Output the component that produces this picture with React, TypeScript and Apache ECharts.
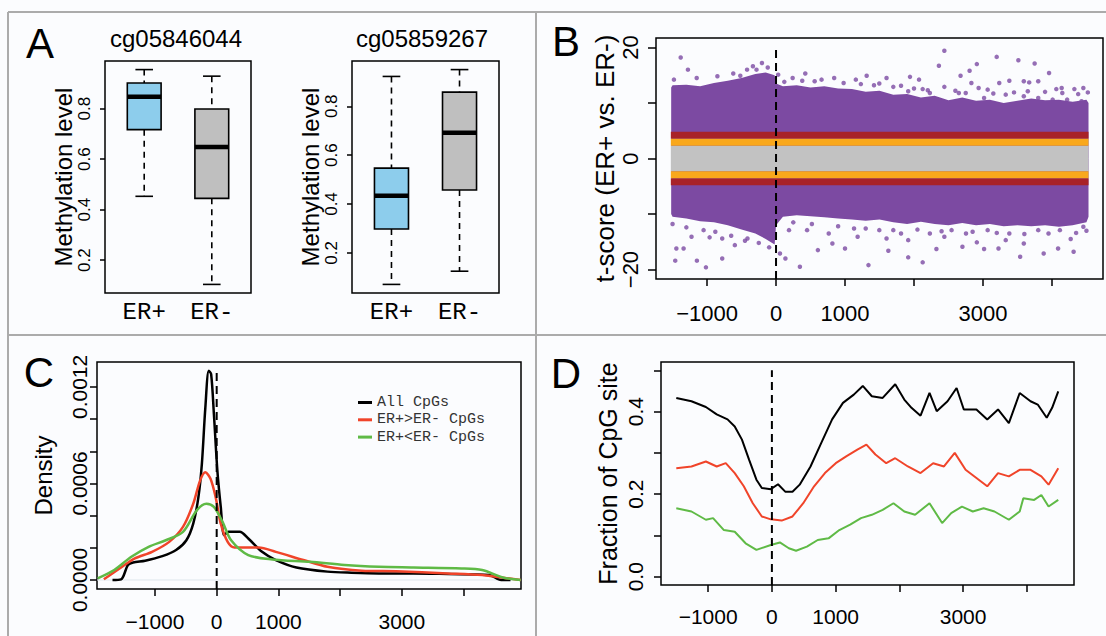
import React, { useEffect, useRef } from "react";
import * as echarts from "echarts";

// ---------------- Panel A : box plots ----------------
const A_GROUPS = ["ER+", "ER-"];
const A_POSITIONS = [1, 2];
const A1_TITLE = "cg05846044";
const A2_TITLE = "cg05859267";
// [lower whisker, Q1, median, Q3, upper whisker]
const A1_ERPOS = [0.453, 0.717, 0.847, 0.902, 0.955];
const A1_ERNEG = [0.104, 0.445, 0.648, 0.799, 0.929];
const A2_ERPOS = [0.071, 0.298, 0.434, 0.547, 0.922];
const A2_ERNEG = [0.125, 0.457, 0.692, 0.858, 0.95];
const A_Y_TICKS = [0.2, 0.4, 0.6, 0.8];
const A_Y_LABEL = "Methylation level";
const A_BOX_COLORS = ["#8dcdec", "#bfbfbf"];

// ---------------- Panel B : t-score scatter ----------------
const B_Y_LABEL = "t-score (ER+ vs. ER-)";
const B_X = [-1520, -1500, -1300, -1100, -900, -700, -500, -300, -150, -20, 0, 100, 300, 500, 700, 900, 1100, 1300, 1500, 1700, 1900, 2100, 2300, 2500, 2700, 2900, 3100, 3300, 3500, 3700, 3900, 4100, 4300, 4500, 4530];
const B_UPPER = [12.8, 13.2, 13.3, 13.0, 13.6, 14.0, 14.5, 15.2, 15.5, 15.0, 13.5, 13.0, 13.2, 12.8, 13.0, 12.6, 12.5, 12.0, 12.2, 11.5, 11.6, 11.0, 11.3, 10.5, 11.0, 10.4, 10.6, 10.0, 10.4, 10.8, 10.5, 10.6, 10.2, 10.6, 10.0];
const B_LOWER = [-10.0, -10.5, -10.8, -11.3, -11.5, -12.0, -12.8, -13.5, -14.5, -15.5, -12.0, -10.5, -10.2, -10.4, -10.6, -10.8, -11.0, -11.2, -11.0, -11.5, -11.8, -11.4, -11.8, -12.0, -11.6, -12.0, -11.8, -12.2, -12.0, -12.2, -12.0, -12.3, -12.0, -11.5, -10.5];
const B_OUTLIERS: [number, number][] = [
  [-1382, 18.2], [-1277, 16.0], [-518, 14.9], [-335, 16.6], [-204, 17.2], [-283, 16.0], [31, 15.1], [241, 14.5], [424, 15.3], [660, 14.2],
  [843, 14.5], [1157, 14.2], [1314, 14.9], [1602, 14.5], [1942, 14.7], [2073, 14.2], [2361, 16.7], [2440, 19.4], [2675, 14.9], [2806, 15.8],
  [2911, 17.0], [2832, 13.6], [2937, 12.7], [3199, 18.3], [3236, 13.6], [3513, 17.7], [3382, 14.0], [3592, 13.9], [3670, 13.7], [3749, 17.1],
  [3801, 13.9], [3958, 15.4], [4063, 12.5], [4141, 12.7], [4325, 12.5], [4455, 12.7], [2126, 12.5], [1812, 13.1], [1497, 13.5], [2440, 12.9],
  [3068, 12.4], [3330, 11.5], [4220, 10.6], [3592, 11.2], [2650, 11.8], [3016, 10.9], [4010, 10.6], [4429, 10.3], [3801, 10.9], [2230, 11.8],
  [1916, 12.1], [120, 13.8], [380, 14.0], [560, 13.9], [980, 13.6], [1230, 13.4], [1420, 13.2], [1700, 12.9], [2000, 12.6], [2200, 12.3],
  [2600, 12.2], [2750, 11.8], [3150, 11.7], [3450, 11.9], [3650, 12.1], [3900, 12.0], [4150, 11.8], [4380, 11.6], [4520, 11.9], [-1480, 14.2],
  [-1150, 14.5], [-850, 14.8], [-620, 15.3], [-420, 16.0], [-120, 16.4],
  [-1445, -16.2], [-1340, -16.2], [-1461, -18.4], [-1016, -19.6], [-1147, -18.4], [-780, -18.0], [-597, -15.6], [-414, -14.4], [-780, -14.4], [-963, -14.2],
  [-1225, -14.1], [346, -19.5], [607, -16.5], [817, -15.3], [1000, -16.2], [1340, -19.2], [1628, -16.6], [1916, -17.8], [2126, -18.7], [2325, -16.3],
  [2440, -14.1], [2702, -15.9], [3016, -16.3], [3225, -16.2], [3539, -17.7], [3880, -17.1], [4089, -16.2], [4314, -16.8], [4272, -14.5], [4455, -12.3],
  [4115, -12.9], [3801, -12.9], [3382, -13.5], [3068, -12.9], [2754, -13.5], [2545, -12.9], [2230, -13.5], [1812, -13.5], [1497, -12.9], [1183, -14.1],
  [764, -13.5], [450, -12.9], [188, -12.9], [1916, -14.7], [1602, -14.4], [1131, -12.6], [2911, -15.1], [3592, -15.3], [3330, -14.7], [57, -17.1],
  [136, -18.0], [-1500, -11.8], [-1300, -12.4], [-1050, -12.9], [-880, -13.2], [-650, -13.9], [-450, -14.8], [-250, -15.2], [-100, -16.0], [250, -11.5],
  [520, -11.8], [900, -12.2], [1300, -12.6], [1700, -12.9], [2050, -12.8], [2400, -13.1], [2850, -13.2], [3200, -13.4], [3600, -13.6], [3950, -13.5],
  [4350, -13.4], [4500, -13.0]
];
// [x start, x end, y low, y high, colour index]
const B_BANDS = [
  [-1525, 4530, -2.3, 2.3, 0],
  [-1525, 4530, 2.3, 3.6, 1],
  [-1525, 4530, -3.6, -2.3, 1],
  [-1525, 4530, 3.6, 4.8, 2],
  [-1525, 4530, -4.8, -3.6, 2]
];
const B_BAND_COLORS = ["#c2c2c2", "#f9a81c", "#a82228"];
const B_PURPLE = "#7c4aa2";
const B_ZERO_LINE = [[0, -21.7], [0, 20.2]];
const X_TICKS = [-1000, 0, 1000, 2000, 3000, 4000];
const X_LABELS = [-1000, 0, 1000, 3000];
const B_Y_TICKS = [-20, -10, 0, 10, 20];
const B_Y_LABELS = [-20, 0, 20];

// ---------------- Panel C : density ----------------
const C_Y_LABEL = "Density";
const C_NAMES = ["All CpGs", "ER+>ER- CpGs", "ER+<ER- CpGs"];
const C_ALL: [number, number][] = [[-1688, 0], [-1549, 0.000004], [-1438, 0.000093], [-1354, 0.000109], [-1159, 0.00012], [-880, 0.000148], [-658, 0.000186], [-491, 0.000247], [-380, 0.00035], [-296, 0.000515], [-240, 0.000722], [-184, 0.00107], [-128, 0.0013], [-90, 0.00128], [-45, 0.00103], [11, 0.00068], [66, 0.000454], [122, 0.000278], [189, 0.0003], [373, 0.0003], [512, 0.000258], [735, 0.000175], [958, 0.000124], [1292, 0.000078], [1794, 0.000052], [2183, 0.000045], [2630, 0.000041], [3187, 0.000041], [3744, 0.000037], [4413, 0.000031], [4608, 0], [4760, 0]];
const C_UP: [number, number][] = [[-1828, 0.000004], [-1549, 0.000078], [-1326, 0.000134], [-1047, 0.000175], [-769, 0.000237], [-546, 0.00033], [-380, 0.000474], [-268, 0.000619], [-184, 0.00067], [-100, 0.000629], [-17, 0.000515], [66, 0.00035], [178, 0.000237], [290, 0.000202], [680, 0.000202], [958, 0.000175], [1404, 0.000124], [1794, 0.000082], [2351, 0.000058], [2908, 0.000054], [3744, 0.000041], [4301, 0.000031], [4524, 0.00002], [4925, 0]];
const C_DOWN: [number, number][] = [[-1928, 0.00001], [-1660, 0.000062], [-1382, 0.000144], [-1103, 0.000206], [-825, 0.000247], [-546, 0.000299], [-323, 0.000433], [-167, 0.000474], [-45, 0.000454], [95, 0.000361], [234, 0.000247], [512, 0.000155], [902, 0.000128], [1515, 0.000113], [2072, 0.000093], [2630, 0.000082], [3187, 0.000078], [3967, 0.000072], [4301, 0.000062], [4635, 0.000016], [4925, 0]];
const C_Y_TICKS = [0, 0.0002, 0.0004, 0.0006, 0.0008, 0.001, 0.0012];
const C_Y_LABELS = [0, 0.0006, 0.0012];
const C_ZERO_LINE = [[0, -0.000056], [0, 0.00131]];
const C_BASELINE = [[-1939, 0], [4930, 0]];

// ---------------- Panel D : fraction of CpG site ----------------
const D_Y_LABEL = "Fraction of CpG site";
const D_ALL: [number, number][] = [[-1500, 0.433], [-1262, 0.425], [-1036, 0.411], [-866, 0.393], [-696, 0.381], [-583, 0.364], [-470, 0.332], [-357, 0.283], [-243, 0.235], [-158, 0.215], [-17, 0.212], [96, 0.224], [209, 0.206], [323, 0.206], [436, 0.223], [606, 0.267], [775, 0.324], [945, 0.381], [1115, 0.421], [1285, 0.441], [1426, 0.462], [1568, 0.437], [1738, 0.433], [1935, 0.466], [2077, 0.429], [2190, 0.409], [2332, 0.39], [2473, 0.445], [2586, 0.401], [2756, 0.425], [2898, 0.457], [3011, 0.405], [3209, 0.405], [3379, 0.381], [3548, 0.405], [3718, 0.372], [3888, 0.445], [4058, 0.425], [4171, 0.417], [4312, 0.385], [4397, 0.409], [4493, 0.449]];
const D_UP: [number, number][] = [[-1500, 0.263], [-1262, 0.267], [-1036, 0.279], [-866, 0.267], [-724, 0.275], [-583, 0.251], [-441, 0.219], [-300, 0.178], [-158, 0.146], [-17, 0.139], [153, 0.136], [323, 0.146], [492, 0.178], [662, 0.219], [832, 0.251], [1002, 0.275], [1172, 0.292], [1341, 0.308], [1483, 0.32], [1624, 0.296], [1794, 0.275], [1935, 0.287], [2134, 0.267], [2332, 0.251], [2530, 0.275], [2700, 0.267], [2869, 0.3], [3039, 0.259], [3209, 0.239], [3379, 0.219], [3548, 0.251], [3718, 0.243], [3888, 0.259], [4058, 0.259], [4228, 0.243], [4341, 0.223], [4493, 0.263]];
const D_DOWN: [number, number][] = [[-1500, 0.166], [-1262, 0.158], [-1036, 0.138], [-923, 0.142], [-753, 0.113], [-583, 0.109], [-413, 0.081], [-243, 0.065], [-17, 0.077], [125, 0.083], [266, 0.069], [379, 0.063], [549, 0.073], [719, 0.089], [889, 0.093], [1058, 0.113], [1228, 0.126], [1398, 0.142], [1568, 0.15], [1738, 0.162], [1907, 0.178], [2077, 0.158], [2247, 0.15], [2473, 0.178], [2671, 0.13], [2813, 0.154], [2982, 0.17], [3152, 0.158], [3322, 0.166], [3492, 0.158], [3718, 0.138], [3888, 0.158], [3945, 0.19], [4115, 0.186], [4228, 0.198], [4341, 0.17], [4493, 0.186]];
const D_Y_TICKS = [0, 0.1, 0.2, 0.3, 0.4, 0.5];
const D_Y_LABELS = [0, 0.2, 0.4];
const D_ZERO_LINE = [[0, -0.02], [0, 0.5]];

const LINE_COLORS = ["#000000", "#f0442a", "#5fba46"];
const SANS = "Liberation Sans, Arial, Helvetica, sans-serif";
const MONO = "Liberation Mono, Courier New, monospace";

const fmtSigned = (v: number) => (v < 0 ? "\u2212" + Math.abs(v) : String(v));

function extend(lo: number, hi: number) {
  const d = (hi - lo) * 0.04;
  return [lo - d, hi + d];
}

function boxRender(colors: string[]) {
  return (params: any, api: any) => {
    const x = api.value(0);
    const lo = api.coord([x, api.value(1)]);
    const q1 = api.coord([x, api.value(2)]);
    const md = api.coord([x, api.value(3)]);
    const q3 = api.coord([x, api.value(4)]);
    const hi = api.coord([x, api.value(5)]);
    const half = api.size([0.25, 0])[0];
    const cap = api.size([0.13, 0])[0];
    const cx = lo[0];
    const dash = { stroke: "#000", lineWidth: 1.6, lineDash: [6, 5], fill: null };
    const solid = { stroke: "#000", lineWidth: 1.6, fill: null };
    return {
      type: "group",
      children: [
        { type: "line", shape: { x1: cx, y1: hi[1], x2: cx, y2: q3[1] }, style: dash },
        { type: "line", shape: { x1: cx, y1: q1[1], x2: cx, y2: lo[1] }, style: dash },
        { type: "line", shape: { x1: cx - cap, y1: hi[1], x2: cx + cap, y2: hi[1] }, style: solid },
        { type: "line", shape: { x1: cx - cap, y1: lo[1], x2: cx + cap, y2: lo[1] }, style: solid },
        { type: "rect", shape: { x: cx - half, y: q3[1], width: 2 * half, height: q1[1] - q3[1] }, style: { fill: colors[params.dataIndex], stroke: "#000", lineWidth: 1.6 } },
        { type: "line", shape: { x1: cx - half, y1: md[1], x2: cx + half, y2: md[1] }, style: { stroke: "#000", lineWidth: 4.5 } }
      ]
    };
  };
}

function bandRender(params: any, api: any) {
  const p0 = api.coord([api.value(0), api.value(3)]);
  const p1 = api.coord([api.value(1), api.value(2)]);
  return {
    type: "rect",
    shape: { x: p0[0], y: p0[1], width: p1[0] - p0[0], height: p1[1] - p0[1] },
    style: { fill: B_BAND_COLORS[api.value(4)] }
  };
}

export default function App() {
  const ref = useRef<HTMLDivElement>(null);

  useEffect(() => {
    if (!ref.current) return;
    const chart = echarts.init(ref.current, null, { renderer: "svg" });

    const a1Range = extend(Math.min(...A1_ERPOS, ...A1_ERNEG), Math.max(...A1_ERPOS, ...A1_ERNEG));
    const a2Range = extend(Math.min(...A2_ERPOS, ...A2_ERNEG), Math.max(...A2_ERPOS, ...A2_ERNEG));

    const gridBase = { show: true, borderColor: "#000", borderWidth: 1.5, backgroundColor: "transparent", containLabel: false, outerBoundsMode: "none" };
    const grids = [
      { ...gridBase, left: 105, top: 61, width: 146, height: 232 },
      { ...gridBase, left: 352, top: 61, width: 147, height: 232 },
      { ...gridBase, left: 656, top: 38, width: 447, height: 241 },
      { ...gridBase, left: 97, top: 362, width: 424, height: 227 },
      { ...gridBase, left: 661, top: 362, width: 413, height: 223 }
    ];

    const baseAxis = (gridIndex: number, min: number, max: number) => ({
      type: "value",
      gridIndex,
      min,
      max,
      splitLine: { show: false },
      axisLine: { show: false, onZero: false }
    });

    const xLab = (margin: number, size: number) => ({
      customValues: X_LABELS,
      formatter: (v: number) => fmtSigned(v),
      margin,
      fontSize: size,
      color: "#000",
      fontFamily: SANS
    });

    const aXLabel = { customValues: A_POSITIONS, formatter: (v: number) => A_GROUPS[A_POSITIONS.indexOf(v)], margin: 7, fontSize: 24, color: "#000", fontFamily: MONO };

    const xAxes = [
      { ...baseAxis(0, 0.42, 2.58), axisTick: { show: false }, axisLabel: aXLabel },
      { ...baseAxis(1, 0.42, 2.58), axisTick: { show: false }, axisLabel: aXLabel },
      {
        ...baseAxis(2, -1740, 4740),
        axisTick: { show: true, customValues: X_TICKS, length: 7, lineStyle: { color: "#000", width: 1.5 } },
        axisLabel: xLab(23, 22)
      },
      {
        ...baseAxis(3, -1939, 4930),
        axisTick: { show: true, customValues: X_TICKS, length: 7, lineStyle: { color: "#000", width: 1.5 } },
        axisLabel: xLab(22, 21)
      },
      {
        ...baseAxis(4, -1740, 4740),
        axisTick: { show: true, customValues: X_TICKS, length: 7, lineStyle: { color: "#000", width: 1.5 } },
        axisLabel: xLab(21, 21)
      }
    ];

    const yName = (name: string, gap: number, size: number) => ({
      name,
      nameLocation: "middle",
      nameRotate: 90,
      nameGap: gap,
      nameTextStyle: { fontSize: size, color: "#000", fontFamily: SANS }
    });

    const aYLabel = { customValues: A_Y_TICKS, rotate: 90, margin: 12, fontSize: 17, color: "#000", fontFamily: SANS, formatter: (v: number) => v.toFixed(1) };

    const yAxes = [
      {
        ...baseAxis(0, a1Range[0], a1Range[1]),
        ...yName(A_Y_LABEL, 29, 24),
        axisTick: { show: true, customValues: A_Y_TICKS, length: 5, lineStyle: { color: "#000", width: 1.5 } },
        axisLabel: aYLabel
      },
      {
        ...baseAxis(1, a2Range[0], a2Range[1]),
        ...yName(A_Y_LABEL, 28, 24),
        axisTick: { show: true, customValues: A_Y_TICKS, length: 5, lineStyle: { color: "#000", width: 1.5 } },
        axisLabel: aYLabel
      },
      {
        ...baseAxis(2, -21.7, 21.7),
        ...yName(B_Y_LABEL, 38, 26),
        axisTick: { show: true, customValues: B_Y_TICKS, length: 8, lineStyle: { color: "#000", width: 1.5 } },
        axisLabel: { customValues: B_Y_LABELS, rotate: 90, margin: 15, fontSize: 22, color: "#000", fontFamily: SANS, formatter: (v: number) => fmtSigned(v) }
      },
      {
        ...baseAxis(3, -0.000056, 0.001355),
        ...yName(C_Y_LABEL, 42, 24),
        axisTick: { show: true, customValues: C_Y_TICKS, length: 7, lineStyle: { color: "#000", width: 1.5 } },
        axisLabel: { customValues: C_Y_LABELS, rotate: 90, margin: 7, fontSize: 21, color: "#000", fontFamily: SANS, formatter: (v: number) => v.toFixed(4) }
      },
      {
        ...baseAxis(4, -0.02, 0.52),
        ...yName(D_Y_LABEL, 41, 25),
        axisTick: { show: true, customValues: D_Y_TICKS, length: 7, lineStyle: { color: "#000", width: 1.5 } },
        axisLabel: { customValues: D_Y_LABELS, rotate: 90, margin: 15, fontSize: 21, color: "#000", fontFamily: SANS, formatter: (v: number) => v.toFixed(1) }
      }
    ];

    const dashed = (idx: number, data: number[][], name: string) => ({
      type: "line",
      name,
      xAxisIndex: idx,
      yAxisIndex: idx,
      data,
      showSymbol: false,
      symbol: "none",
      silent: true,
      z: 10,
      lineStyle: { color: "#000", width: 2, type: [8, 5] }
    });

    const curve = (idx: number, data: [number, number][], name: string, color: string, width: number, smooth: number | boolean) => ({
      type: "line",
      name,
      xAxisIndex: idx,
      yAxisIndex: idx,
      data,
      showSymbol: false,
      symbol: "none",
      smooth,
      lineStyle: { color, width },
      itemStyle: { color }
    });

    const series: any[] = [
      {
        type: "custom",
        name: "A1 boxes",
        xAxisIndex: 0,
        yAxisIndex: 0,
        encode: { x: 0, y: [1, 2, 3, 4, 5] },
        data: [[A_POSITIONS[0], ...A1_ERPOS], [A_POSITIONS[1], ...A1_ERNEG]],
        renderItem: boxRender(A_BOX_COLORS)
      },
      {
        type: "custom",
        name: "A2 boxes",
        xAxisIndex: 1,
        yAxisIndex: 1,
        encode: { x: 0, y: [1, 2, 3, 4, 5] },
        data: [[A_POSITIONS[0], ...A2_ERPOS], [A_POSITIONS[1], ...A2_ERNEG]],
        renderItem: boxRender(A_BOX_COLORS)
      },
      {
        type: "line",
        name: "B upper",
        xAxisIndex: 2,
        yAxisIndex: 2,
        data: B_X.map((x, i) => [x, B_UPPER[i]]),
        showSymbol: false,
        symbol: "none",
        lineStyle: { width: 0 },
        areaStyle: { color: B_PURPLE, opacity: 1, origin: 0 }
      },
      {
        type: "line",
        name: "B lower",
        xAxisIndex: 2,
        yAxisIndex: 2,
        data: B_X.map((x, i) => [x, B_LOWER[i]]),
        showSymbol: false,
        symbol: "none",
        lineStyle: { width: 0 },
        areaStyle: { color: B_PURPLE, opacity: 1, origin: 0 }
      },
      {
        type: "scatter",
        name: "B outliers",
        xAxisIndex: 2,
        yAxisIndex: 2,
        data: B_OUTLIERS,
        symbolSize: 4.5,
        itemStyle: { color: B_PURPLE }
      },
      {
        type: "custom",
        name: "B bands",
        xAxisIndex: 2,
        yAxisIndex: 2,
        encode: { x: [0, 1], y: [2, 3] },
        data: B_BANDS,
        renderItem: bandRender,
        z: 5
      },
      dashed(2, B_ZERO_LINE, "B zero"),
      {
        type: "line",
        name: "C baseline",
        xAxisIndex: 3,
        yAxisIndex: 3,
        data: C_BASELINE,
        showSymbol: false,
        symbol: "none",
        lineStyle: { color: "#dfe6ec", width: 1 }
      },
      curve(3, C_ALL, C_NAMES[0], LINE_COLORS[0], 2.5, 0.3),
      curve(3, C_UP, C_NAMES[1], LINE_COLORS[1], 2.5, 0.3),
      curve(3, C_DOWN, C_NAMES[2], LINE_COLORS[2], 2.5, 0.3),
      dashed(3, C_ZERO_LINE, "C zero"),
      curve(4, D_ALL, "D all", LINE_COLORS[0], 2, false),
      curve(4, D_UP, "D up", LINE_COLORS[1], 2, false),
      curve(4, D_DOWN, "D down", LINE_COLORS[2], 2, false),
      dashed(4, D_ZERO_LINE, "D zero")
    ];

    const border = { stroke: "#ababab", lineWidth: 2 };
    const letter = (text: string, x: number, y: number) => ({
      type: "text",
      x,
      y,
      style: { text, fontSize: 42, fontFamily: SANS, fill: "#000", textAlign: "center", textVerticalAlign: "middle" }
    });
    const title = (text: string, x: number, y: number) => ({
      type: "text",
      x,
      y,
      style: { text, fontSize: 24, fontFamily: SANS, fill: "#000", textAlign: "center", textVerticalAlign: "middle" }
    });

    chart.setOption({
      animation: false,
      backgroundColor: "#fbfcfe",
      textStyle: { fontFamily: SANS },
      grid: grids,
      xAxis: xAxes,
      yAxis: yAxes,
      legend: {
        data: C_NAMES,
        orient: "vertical",
        left: 358,
        top: 395,
        padding: 0,
        itemGap: 2.3,
        itemWidth: 14,
        itemHeight: 3,
        icon: "rect",
        selectedMode: false,
        textStyle: { fontFamily: MONO, fontSize: 15, color: "#333", lineHeight: 15 }
      },
      graphic: [
        { type: "line", shape: { x1: 8, y1: 12, x2: 1106, y2: 12 }, style: border, silent: true },
        { type: "line", shape: { x1: 8, y1: 12, x2: 8, y2: 636 }, style: border, silent: true },
        { type: "line", shape: { x1: 536, y1: 12, x2: 536, y2: 636 }, style: border, silent: true },
        { type: "line", shape: { x1: 8, y1: 335, x2: 1106, y2: 335 }, style: border, silent: true },
        letter("A", 40, 43),
        letter("B", 566, 41),
        letter("C", 39, 372),
        letter("D", 566, 373),
        title(A1_TITLE, 176, 38),
        title(A2_TITLE, 422, 38)
      ],
      series
    });

    return () => chart.dispose();
  }, []);

  return <div ref={ref} style={{ position: "fixed", left: 0, top: 0, width: 1106, height: 636 }} />;
}
